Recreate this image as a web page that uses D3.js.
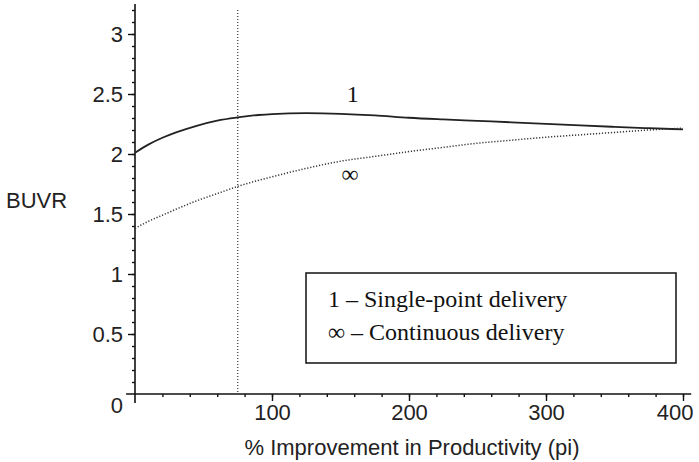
<!DOCTYPE html>
<html>
<head>
<meta charset="utf-8">
<script src="https://cdn.jsdelivr.net/npm/d3@7"></script>
<style>
  body { margin: 0; background: #fff; }
  .tick text { font-family: "Liberation Sans", Arial, sans-serif; font-size: 22px; fill: #222; }
  .tick line { stroke: #111; stroke-width: 1.4; }
  .lbl { font-family: "Liberation Sans", Arial, sans-serif; font-size: 22px; fill: #222; }
  .serif { font-family: "Liberation Serif", "Times New Roman", serif; font-size: 24px; fill: #111; }
</style>
</head>
<body>
<svg id="chart" width="699" height="462"></svg>
<script>
// % improvement in productivity (pi)
var piValues = [0, 10, 20, 30, 45, 60, 75, 90, 100, 125, 150, 175, 200, 225, 250, 275, 300, 325, 350, 375, 400];
// BUVR, single-point delivery (1)
var singlePoint = [2.01, 2.08, 2.135, 2.18, 2.235, 2.278, 2.305, 2.325, 2.333, 2.34, 2.335, 2.322, 2.302, 2.288, 2.276, 2.264, 2.251, 2.238, 2.226, 2.215, 2.205];
// BUVR, continuous delivery (infinity)
var continuous = [1.38, 1.44, 1.49, 1.54, 1.61, 1.67, 1.73, 1.78, 1.81, 1.88, 1.94, 1.98, 2.02, 2.055, 2.09, 2.115, 2.14, 2.16, 2.18, 2.20, 2.215];
var markerPi = 75;

var xMajor = [100, 200, 300, 400];
var yMajor = [0.5, 1, 1.5, 2, 2.5, 3];
var legendLines = ["1 \u2013 Single-point delivery", "\u221e \u2013 Continuous delivery"];

var svg = d3.select("#chart");

var x = d3.scaleLinear().domain([0, 400]).range([135, 683]);
var y = d3.scaleLinear().domain([0, 3]).range([394, 34]);

// minor ticks
svg.append("g")
  .attr("transform", "translate(0," + y(0) + ")")
  .call(d3.axisBottom(x).tickValues(d3.range(20, 401, 20)).tickSize(3).tickFormat(""))
  .call(function (g) { g.select(".domain").remove(); });
svg.append("g")
  .attr("transform", "translate(" + x(0) + ",0)")
  .call(d3.axisLeft(y).tickValues(d3.range(1, 33).map(function (i) { return i / 10; })).tickSize(3).tickFormat(""))
  .call(function (g) { g.select(".domain").remove(); });

// major ticks
var xAxisG = svg.append("g")
  .attr("transform", "translate(0," + y(0) + ")")
  .call(d3.axisBottom(x).tickValues(xMajor).tickSize(7).tickPadding(3).tickFormat(d3.format("d")))
  .call(function (g) { g.select(".domain").remove(); });
// last label sits flush inside the right edge
xAxisG.selectAll(".tick text")
  .filter(function (d) { return d === 400; })
  .attr("text-anchor", "end").attr("x", 10);

svg.append("g")
  .attr("transform", "translate(" + x(0) + ",0)")
  .call(d3.axisLeft(y).tickValues(yMajor).tickSize(7).tickPadding(5).tickFormat(function (d) { return d; }))
  .call(function (g) { g.select(".domain").remove(); });

// axis lines, crossing past the origin
svg.append("line")
  .attr("x1", x(-6.5)).attr("x2", x(406))
  .attr("y1", y(0)).attr("y2", y(0))
  .style("stroke", "#111").style("stroke-width", 1.6);
svg.append("line")
  .attr("x1", x(0)).attr("x2", x(0))
  .attr("y1", y(-0.075)).attr("y2", y(3.25))
  .style("stroke", "#111").style("stroke-width", 1.6);

svg.append("text").attr("class", "lbl")
  .attr("x", x(0) - 12).attr("y", y(0) + 11)
  .attr("dy", "0.35em").attr("text-anchor", "end")
  .text("0");

// vertical dotted marker
svg.append("line")
  .attr("x1", x(markerPi)).attr("x2", x(markerPi))
  .attr("y1", y(3.2)).attr("y2", y(0) - 2)
  .style("stroke", "#333").style("stroke-width", 1.2)
  .style("stroke-dasharray", "1,2");

var line = d3.line()
  .x(function (d) { return x(d[0]); })
  .y(function (d) { return y(d[1]); })
  .curve(d3.curveMonotoneX);

svg.append("path")
  .attr("d", line(piValues.map(function (p, i) { return [p, singlePoint[i]]; })))
  .style("fill", "none").style("stroke", "#222").style("stroke-width", 1.8);

svg.append("path")
  .attr("d", line(piValues.map(function (p, i) { return [p, continuous[i]]; })))
  .style("fill", "none").style("stroke", "#333").style("stroke-width", 1.5)
  .style("stroke-dasharray", "1.2,1.8");

// curve labels
svg.append("text").attr("class", "serif")
  .attr("x", x(159)).attr("y", y(2.43))
  .attr("text-anchor", "middle").text("1");
svg.append("text").attr("class", "serif")
  .attr("x", x(157)).attr("y", y(1.77))
  .attr("text-anchor", "middle").text("\u221e");

// axis titles
svg.append("text").attr("class", "lbl")
  .attr("x", 6).attr("y", 200).attr("dy", "0.35em")
  .text("BUVR");
svg.append("text").attr("class", "lbl")
  .attr("x", 412).attr("y", 455)
  .attr("text-anchor", "middle")
  .text("% Improvement in Productivity (pi)");

// legend box
var legend = svg.append("g").attr("transform", "translate(306,273)");
legend.append("rect")
  .attr("width", 370).attr("height", 90)
  .style("fill", "#fff").style("stroke", "#111").style("stroke-width", 1.5);
legend.selectAll("text.serif")
  .data(legendLines)
  .enter()
  .append("text")
  .attr("class", "serif")
  .attr("x", 22)
  .attr("y", function (d, i) { return 34 + i * 33; })
  .text(function (d) { return d; });
</script>
</body>
</html>
